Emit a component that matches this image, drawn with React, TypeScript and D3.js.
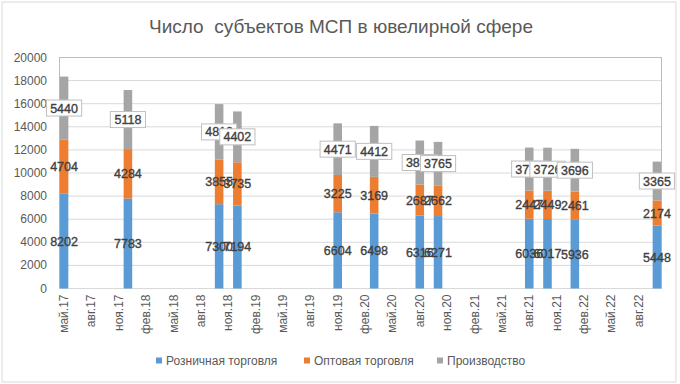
import React from 'react';
import * as d3 from 'd3';

const W = 680;
const H = 384;

// Reporting months (Excel-style date axis, monthly base unit)
const dates = ['2017-05', '2017-12', '2018-10', '2018-12', '2019-11', '2020-03', '2020-08', '2020-10', '2021-08', '2021-10', '2022-01', '2022-10'];
const retail = [8202, 7783, 7300, 7194, 6604, 6498, 6316, 6271, 6036, 6017, 5936, 5448];
const wholesale = [4704, 4284, 3855, 3735, 3225, 3169, 2687, 2662, 2447, 2449, 2461, 2174];
const production = [5440, 5118, 4810, 4402, 4471, 4412, 3810, 3765, 3720, 3726, 3696, 3365];

const seriesKeys = ['retail', 'wholesale', 'production'];
const seriesNames = ['Розничная торговля', 'Оптовая торговля', 'Производство'];
const seriesColors = ['#5B9BD5', '#ED7D31', '#A5A5A5'];
const monthNames = ['янв', 'фев', 'мар', 'апр', 'май', 'июн', 'июл', 'авг', 'сен', 'окт', 'ноя', 'дек'];
const yTicks = [0, 2000, 4000, 6000, 8000, 10000, 12000, 14000, 16000, 18000, 20000];

const FONT = '"Liberation Sans", Arial, sans-serif';
const margin = { top: 57.5, right: 18.5, bottom: 95.5, left: 59.5 };

const parse = d3.utcParse('%Y-%m');
const start = parse(dates[0]) as Date;
const monthIdx = dates.map(d => d3.utcMonth.count(start, parse(d) as Date));
const lastIdx = monthIdx[monthIdx.length - 1];

const rows = dates.map((d, i) => ({
  m: monthIdx[i],
  retail: retail[i],
  wholesale: wholesale[i],
  production: production[i],
}));

export default function App() {
  const x = d3.scaleLinear()
    .domain([-0.5, lastIdx + 0.5])
    .range([margin.left, W - margin.right]);
  const y = d3.scaleLinear()
    .domain([0, 20000])
    .range([H - margin.bottom, margin.top]);

  const stacked = d3.stack<any>().keys(seriesKeys)(rows);
  const step = x(1) - x(0);
  const barW = step * 0.94;

  const tickMonths = d3.range(0, lastIdx, 3);
  const tickLabel = (m: number) => {
    const d = d3.utcMonth.offset(start, m);
    return `${monthNames[d.getUTCMonth()]}.${String(d.getUTCFullYear()).slice(2)}`;
  };

  const legendX = [156, 304, 437];

  return (
    <svg width={W} height={H} style={{ position: 'absolute', left: 0, top: 0, background: '#fff' }} fontFamily={FONT}>
      <rect x={2} y={2} width={674} height={380} fill="#fff" stroke="#D9D9D9" />
      <text x={341} y={33} textAnchor="middle" fontSize={19} fill="#595959" style={{ whiteSpace: 'pre' }}>
        Число  субъектов МСП в ювелирной сфере
      </text>

      {/* grid */}
      {yTicks.map(t => (
        <g key={t}>
          <line x1={x.range()[0]} x2={x.range()[1]} y1={y(t)} y2={y(t)} stroke="#D9D9D9" />
          <text x={47} y={y(t) + 4} textAnchor="end" fontSize={12} fill="#595959">{t}</text>
        </g>
      ))}
      <rect x={x.range()[0]} y={y(20000)} width={x.range()[1] - x.range()[0]} height={y(0) - y(20000)}
        fill="none" stroke="#A9C1DF" />
      <line x1={x.range()[0]} x2={x.range()[1]} y1={y(0)} y2={y(0)} stroke="#D9D9D9" />

      {/* bars */}
      {stacked.map((s, si) => (
        <g key={s.key} fill={seriesColors[si]}>
          {s.map((d, i) => (
            <rect key={i} x={x(rows[i].m) - barW / 2} y={y(d[1])} width={barW} height={y(d[0]) - y(d[1])} />
          ))}
        </g>
      ))}

      {/* data labels */}
      {stacked.map((s, si) => (
        <g key={s.key}>
          {s.map((d, i) => {
            const v = d[1] - d[0];
            const cx = x(rows[i].m);
            const cy = y((d[0] + d[1]) / 2);
            const label = String(v);
            const bw = label.length * 6.8 + 8;
            return (
              <g key={i}>
                {si === 2 && (
                  <rect x={cx - bw / 2} y={cy - 8} width={bw} height={16} fill="#fff" stroke="#BFBFBF" />
                )}
                <text x={cx} y={cy + 4.5} textAnchor="middle" fontSize={12.5} fill="#404040"
                  stroke="#404040" strokeWidth={0.35}>{label}</text>
              </g>
            );
          })}
        </g>
      ))}

      {/* x axis labels */}
      {tickMonths.map(m => (
        <text key={m} transform={`translate(${x(m) + 4},${y(0) + 6}) rotate(-90)`} textAnchor="end"
          fontSize={12} fill="#595959">{tickLabel(m)}</text>
      ))}

      {/* legend */}
      {seriesNames.map((n, i) => (
        <g key={n}>
          <rect x={legendX[i]} y={357.5} width={6} height={6} fill={seriesColors[i]} />
          <text x={legendX[i] + 10} y={365} fontSize={12} fill="#595959">{n}</text>
        </g>
      ))}
    </svg>
  );
}
